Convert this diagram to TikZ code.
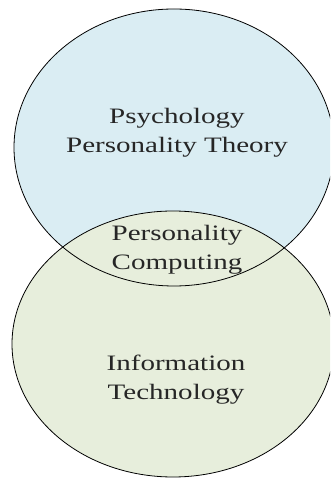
\documentclass[tikz,border=0pt]{standalone}
\usepackage{fontspec}
\setmainfont{Liberation Serif}
\newfontfamily\wideserif[FakeStretch=1.32]{Liberation Serif}
\definecolor{psyblue}{RGB}{218,237,243}
\definecolor{itgreen}{RGB}{231,238,220}
\begin{document}
\begin{tikzpicture}[x=1pt,y=1pt,
  outline/.style={draw=black,line width=0.8pt},
  label/.style={align=center,anchor=base,inner sep=0pt,
    font=\wideserif\fontsize{22}{29}\selectfont,text=black!85}]
\useasboundingbox (0,0) rectangle (330,487);
\clip (0,0) rectangle (330,487);
\fill[psyblue] (174,339.5) ellipse [x radius=160, y radius=138.5];
\fill[itgreen] (173,143) ellipse [x radius=161, y radius=133];
\draw[outline] (174,339.5) ellipse [x radius=160, y radius=138.5];
\draw[outline] (173,143) ellipse [x radius=161, y radius=133];
\node[label] (psy) at (177,334) {Psychology\\Personality Theory};
\node[label] (pc) at (177,217) {Personality\\Computing};
\node[label] (it) at (176,87) {Information\\Technology};
\end{tikzpicture}
\end{document}
